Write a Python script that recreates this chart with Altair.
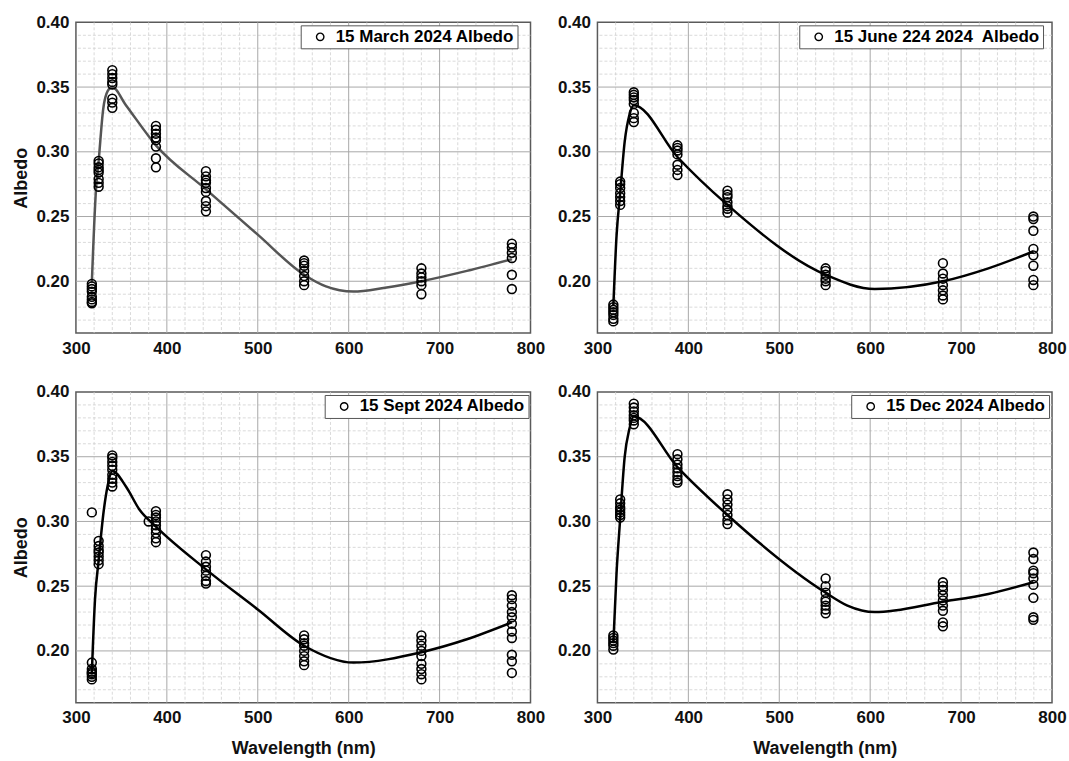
import altair as alt
import pandas as pd

# ---------------- data ----------------
WAVELENGTHS = [317.5, 325, 340, 388, 443, 551, 680, 779.5]

LABELS = ["15 March 2024 Albedo", "15 June 224 2024\u00a0 Albedo",
          "15 Sept 2024 Albedo", "15 Dec 2024 Albedo"]

# observed albedo values, one list per wavelength (same order as WAVELENGTHS)
march_obs = [
    [0.198, 0.196, 0.194, 0.192, 0.188, 0.186, 0.184, 0.183],
    [0.293, 0.291, 0.288, 0.286, 0.284, 0.279, 0.276, 0.273],
    [0.363, 0.360, 0.357, 0.354, 0.352, 0.341, 0.338, 0.334],
    [0.320, 0.317, 0.314, 0.311, 0.309, 0.304, 0.295, 0.288],
    [0.285, 0.281, 0.278, 0.276, 0.272, 0.269, 0.262, 0.258, 0.254],
    [0.216, 0.214, 0.212, 0.208, 0.204, 0.200, 0.197],
    [0.210, 0.206, 0.203, 0.200, 0.197, 0.190],
    [0.229, 0.226, 0.222, 0.218, 0.205, 0.194],
]
june_obs = [
    [0.182, 0.180, 0.178, 0.176, 0.174, 0.171, 0.169],
    [0.277, 0.275, 0.272, 0.268, 0.265, 0.262, 0.259],
    [0.346, 0.344, 0.342, 0.340, 0.337, 0.330, 0.326, 0.323],
    [0.305, 0.303, 0.301, 0.298, 0.290, 0.286, 0.282],
    [0.270, 0.267, 0.265, 0.261, 0.258, 0.256, 0.253],
    [0.210, 0.208, 0.205, 0.202, 0.200, 0.197],
    [0.214, 0.206, 0.202, 0.197, 0.193, 0.189, 0.186],
    [0.250, 0.248, 0.239, 0.225, 0.220, 0.212, 0.201, 0.197],
]
sept_obs = [
    [0.307, 0.191, 0.186, 0.184, 0.183, 0.182, 0.180, 0.178],
    [0.285, 0.281, 0.278, 0.276, 0.273, 0.270, 0.267],
    [0.351, 0.349, 0.346, 0.343, 0.340, 0.336, 0.333, 0.330, 0.327],
    [0.308, 0.305, 0.303, 0.300, 0.297, 0.294, 0.291, 0.287, 0.284],
    [0.274, 0.269, 0.265, 0.262, 0.258, 0.254, 0.252],
    [0.212, 0.209, 0.206, 0.204, 0.200, 0.196, 0.192, 0.189],
    [0.212, 0.208, 0.204, 0.200, 0.196, 0.190, 0.186, 0.182, 0.178],
    [0.243, 0.240, 0.235, 0.230, 0.226, 0.221, 0.215, 0.210, 0.197, 0.192, 0.183],
]
sept_extra_wl = [380]
sept_extra_val = [0.300]
dec_obs = [
    [0.212, 0.210, 0.208, 0.206, 0.204, 0.201],
    [0.317, 0.314, 0.311, 0.309, 0.307, 0.305, 0.303],
    [0.391, 0.388, 0.385, 0.382, 0.380, 0.378, 0.375],
    [0.352, 0.348, 0.344, 0.341, 0.338, 0.335, 0.332, 0.330],
    [0.321, 0.317, 0.313, 0.309, 0.305, 0.301, 0.298],
    [0.256, 0.250, 0.245, 0.240, 0.238, 0.235, 0.232, 0.229],
    [0.253, 0.250, 0.247, 0.243, 0.239, 0.235, 0.231, 0.222, 0.219],
    [0.276, 0.271, 0.262, 0.260, 0.256, 0.251, 0.241, 0.226, 0.224],
]

# fitted curves
march_curve_x = [317.5, 322, 325, 330, 335, 340, 355, 388, 443, 500, 551, 575, 605, 640, 680, 730, 779.5]
march_curve_y = [0.199, 0.270, 0.293, 0.333, 0.347, 0.350, 0.336, 0.305, 0.271, 0.236, 0.205, 0.196, 0.192, 0.195, 0.200, 0.208, 0.217]
june_curve_x = [317.5, 321, 325, 330, 335, 340, 388, 443, 551, 605, 680, 730, 779.5]
june_curve_y = [0.181, 0.235, 0.268, 0.308, 0.328, 0.336, 0.296, 0.259, 0.205, 0.194, 0.200, 0.210, 0.223]
sept_curve_x = [317.5, 321, 325, 330, 335, 340, 355, 370, 388, 443, 500, 551, 605, 680, 730, 779.5]
sept_curve_y = [0.183, 0.240, 0.270, 0.305, 0.328, 0.339, 0.327, 0.309, 0.296, 0.263, 0.232, 0.204, 0.191, 0.199, 0.209, 0.222]
dec_curve_x = [317.5, 321, 325, 330, 335, 340, 388, 443, 551, 575, 605, 680, 730, 779.5]
dec_curve_y = [0.206, 0.260, 0.302, 0.350, 0.371, 0.381, 0.342, 0.305, 0.245, 0.235, 0.230, 0.238, 0.244, 0.253]

LINE_COLORS = ["#555555", "#000000", "#000000", "#000000"]
LEGEND_X = [225, 202, 249, 254]

X_TICKS = [300, 400, 500, 600, 700, 800]
Y_TICKS = [0.20, 0.25, 0.30, 0.35, 0.40]
X_MAJOR_GRID = [400, 500, 600, 700]
Y_MAJOR_GRID = [0.20, 0.25, 0.30, 0.35]
X_MINOR_GRID = [v for v in range(320, 800, 20) if v % 100 != 0]
Y_MINOR_GRID = [round(0.16 + 0.01 * i, 2) for i in range(1, 24) if (i + 16) % 5 != 0]

FONT = "Liberation Sans"
W, H = 455, 311


def obs_frame(obs, label, extra_wl=(), extra_val=()):
    rows = []
    for wl, vals in zip(WAVELENGTHS, obs):
        for v in vals:
            rows.append({"wl": wl, "albedo": v, "series": label})
    for wl, v in zip(extra_wl, extra_val):
        rows.append({"wl": wl, "albedo": v, "series": label})
    return pd.DataFrame(rows)


def panel(obs_df, cx, cy, label, color, lx, ytitle, xtitle):
    xs = alt.Scale(domain=[300, 800], nice=False, zero=False)
    ys = alt.Scale(domain=[0.16, 0.40], nice=False, zero=False)
    xaxis = alt.Axis(values=X_TICKS, title=xtitle, labelFlush=False, format="d")
    yaxis = alt.Axis(values=Y_TICKS, title=ytitle, labelFlush=False, format=".2f")

    minor_x = alt.Chart(pd.DataFrame({"v": X_MINOR_GRID})).mark_rule(
        color="#d0d0d0", strokeDash=[3, 2], strokeWidth=0.8
    ).encode(x=alt.X("v:Q", scale=xs, axis=xaxis))
    minor_y = alt.Chart(pd.DataFrame({"v": Y_MINOR_GRID})).mark_rule(
        color="#d0d0d0", strokeDash=[3, 2], strokeWidth=0.8
    ).encode(y=alt.Y("v:Q", scale=ys, axis=yaxis))
    major_x = alt.Chart(pd.DataFrame({"v": X_MAJOR_GRID})).mark_rule(
        color="#a8a8a8", strokeWidth=1
    ).encode(x=alt.X("v:Q", scale=xs, axis=xaxis))
    major_y = alt.Chart(pd.DataFrame({"v": Y_MAJOR_GRID})).mark_rule(
        color="#a8a8a8", strokeWidth=1
    ).encode(y=alt.Y("v:Q", scale=ys, axis=yaxis))

    curve = alt.Chart(pd.DataFrame({"wl": cx, "albedo": cy})).mark_line(
        color=color, strokeWidth=2.5, interpolate="monotone"
    ).encode(
        x=alt.X("wl:Q", scale=xs, axis=xaxis),
        y=alt.Y("albedo:Q", scale=ys, axis=yaxis),
    )

    pts = alt.Chart(obs_df).mark_point(
        filled=False, size=78, strokeWidth=1.6, color="black", opacity=1
    ).encode(
        x=alt.X("wl:Q", scale=xs, axis=xaxis),
        y=alt.Y("albedo:Q", scale=ys, axis=yaxis),
        shape=alt.Shape(
            "series:N",
            scale=alt.Scale(domain=[label], range=["circle"]),
            legend=alt.Legend(
                title=None, orient="none", legendX=lx, legendY=3,
                strokeColor="#555555", fillColor="white", padding=3,
                labelFont=FONT, labelFontSize=17, labelFontWeight="bold",
                labelColor="#000000", labelLimit=500, symbolSize=55,
                symbolStrokeWidth=1.4, symbolStrokeColor="black",
                symbolFillColor="white", symbolOffset=8, labelOffset=7,
                cornerRadius=0,
            ),
        ),
    )
    return alt.layer(minor_x, minor_y, major_x, major_y, curve, pts).properties(
        width=W, height=H
    )


p1 = panel(obs_frame(march_obs, LABELS[0]), march_curve_x, march_curve_y,
           LABELS[0], LINE_COLORS[0], LEGEND_X[0], "Albedo", None)
p2 = panel(obs_frame(june_obs, LABELS[1]), june_curve_x, june_curve_y,
           LABELS[1], LINE_COLORS[1], LEGEND_X[1], None, None)
p3 = panel(obs_frame(sept_obs, LABELS[2], sept_extra_wl, sept_extra_val),
           sept_curve_x, sept_curve_y,
           LABELS[2], LINE_COLORS[2], LEGEND_X[2], "Albedo", "Wavelength (nm)")
p4 = panel(obs_frame(dec_obs, LABELS[3]), dec_curve_x, dec_curve_y,
           LABELS[3], LINE_COLORS[3], LEGEND_X[3], None, "Wavelength (nm)")

chart = alt.concat(
    p1, p2, p3, p4, columns=2, spacing={"row": 59, "column": 67}, bounds="flush"
).resolve_scale(shape="independent").properties(
    padding={"left": 12, "top": 12, "right": 2, "bottom": 2},
    background="white",
).configure_view(
    stroke="#5a5a5a", strokeWidth=1.5
).configure_axis(
    labelFont=FONT, labelFontSize=17, labelFontWeight="bold", labelColor="#111111",
    titleFont=FONT, titleFontSize=18, titleFontWeight="bold", titleColor="#111111",
    ticks=False, domain=False, grid=False, labelPadding=7,
).configure_axisX(
    titlePadding=14
).configure_axisY(
    titlePadding=5
)

chart.save("out.html", embed_options={"renderer": "svg", "actions": False})
